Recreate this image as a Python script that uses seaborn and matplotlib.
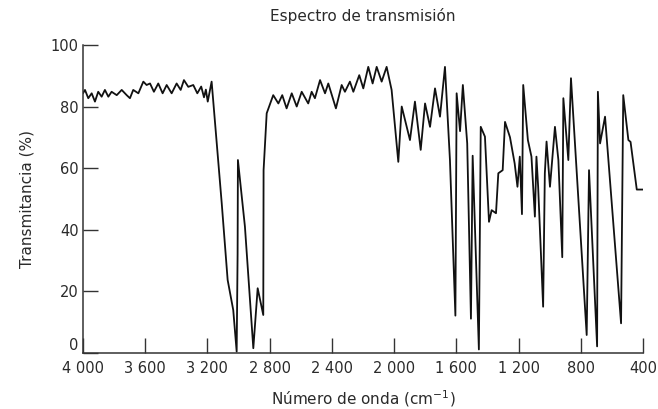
import matplotlib
matplotlib.use("Agg")
import matplotlib.pyplot as plt
import seaborn as sns
import pandas as pd

# Wavenumber (cm^-1) and transmittance (%)
wavenumber = [
    4000, 3987, 3966, 3944, 3923, 3902, 3880, 3859, 3837, 3816,
    3783, 3751, 3719, 3698, 3677, 3644, 3612, 3591, 3569, 3544,
    3516, 3488, 3462, 3430, 3398, 3372, 3351, 3323, 3291, 3265,
    3240, 3222, 3210, 3198, 3173,
    3108, 3070, 3034, 3012, 3006, 3004, 2959, 2905, 2877, 2841,
    2839, 2819, 2777, 2744, 2719, 2691, 2658, 2626, 2594, 2552,
    2530, 2509, 2476, 2444, 2423, 2374, 2337, 2316, 2284, 2262,
    2224, 2198, 2166, 2138, 2112, 2080, 2048, 2016, 1973, 1951,
    1898, 1866, 1829, 1801, 1769, 1737, 1705, 1673, 1641, 1606,
    1598, 1576, 1558, 1530, 1506, 1495, 1455, 1443, 1416, 1390,
    1373, 1345, 1330, 1302, 1287, 1255, 1225, 1207, 1192, 1178,
    1170, 1140, 1117, 1095, 1085, 1074, 1042, 1031, 1020, 998,
    966, 944, 919, 912, 880, 863, 762, 747, 695, 690,
    676, 644, 541, 527, 494, 480, 440, 400,
]
transmittance = [
    84.3, 85.4, 82.7, 84.3, 81.6, 84.8, 83.2, 85.4, 83.2, 84.8,
    83.7, 85.4, 83.7, 82.7, 85.4, 84.3, 88.1, 87.0, 87.5, 84.8,
    87.5, 84.3, 87.0, 84.3, 87.5, 85.4, 88.6, 86.4, 87.0, 84.3,
    86.5, 83.0, 85.5, 81.6, 88.1,
    48.5, 23.6, 13.8, 0.3, 32.0, 62.6, 41.0, 1.4, 20.9, 12.2,
    59.3, 77.8, 83.7, 81.0, 83.7, 79.4, 84.3, 80.0, 84.8, 81.0,
    84.8, 82.7, 88.6, 84.3, 87.5, 79.4, 87.0, 84.8, 88.1, 84.8,
    90.2, 85.9, 92.9, 87.5, 92.9, 88.1, 92.9, 85.4, 62.0, 80.0,
    69.1, 81.6, 65.9, 81.0, 73.4, 85.9, 76.7, 92.9, 62.6, 12.0,
    84.3, 72.0, 87.0, 68.0, 11.0, 64.0, 1.0, 73.4, 70.2, 42.5,
    46.3, 45.3, 58.3, 59.3, 75.0, 70.0, 61.5, 53.9, 63.7, 45.0,
    87.0, 69.1, 63.7, 44.2, 63.7, 53.9, 14.9, 58.3, 68.6, 53.9,
    73.4, 62.6, 31.0, 82.7, 62.6, 89.2, 5.7, 59.3, 2.0, 84.8,
    68.0, 76.7, 9.5, 83.7, 69.1, 68.5, 53.0, 53.0,
]

x_ticks = [4000, 3600, 3200, 2800, 2400, 2000, 1600, 1200, 800, 400]
x_tick_labels = ["4 000", "3 600", "3 200", "2 800", "2 400", "2 000",
                 "1 600", "1 200", "800", "400"]
y_ticks = [0, 20, 40, 60, 80, 100]

title = "Espectro de transmisión"
x_label = "Número de onda (cm$^{-1}$)"
y_label = "Transmitancia (%)"

df = pd.DataFrame({"wn": wavenumber, "T": transmittance})

sns.set_theme(style="ticks")
plt.rcParams["font.family"] = ["DejaVu Sans"]

text_color = "#2a2a2a"
fig = plt.figure(figsize=(6.58, 4.09), dpi=100)
ax = fig.add_axes([0.1261, 0.1381, 0.8511, 0.7518])

sns.lineplot(data=df, x="wn", y="T", sort=False, estimator=None,
             color="#111111", linewidth=1.3, ax=ax)

ax.set_xlim(4000, 400)
ax.set_ylim(0, 100)
ax.set_xticks(x_ticks)
ax.set_xticklabels(x_tick_labels)
ax.set_yticks(y_ticks)

sns.despine(ax=ax)
for side in ("left", "bottom"):
    ax.spines[side].set_color("#333333")
    ax.spines[side].set_linewidth(1.1)

ax.tick_params(axis="both", direction="in", length=11, width=1.0,
               color="#333333", labelsize=10.5, labelcolor=text_color)
ax.tick_params(axis="x", pad=6)
ax.tick_params(axis="y", pad=3)
ax.get_yticklabels()[0].set_verticalalignment("bottom")

ax.set_xlabel(x_label, fontsize=11, color=text_color, labelpad=9)
ax.set_ylabel(y_label, fontsize=11, color=text_color, labelpad=12)
ax.set_title(title, fontsize=11, color=text_color, pad=17)

fig.savefig("out.png", dpi=100, facecolor="white")
